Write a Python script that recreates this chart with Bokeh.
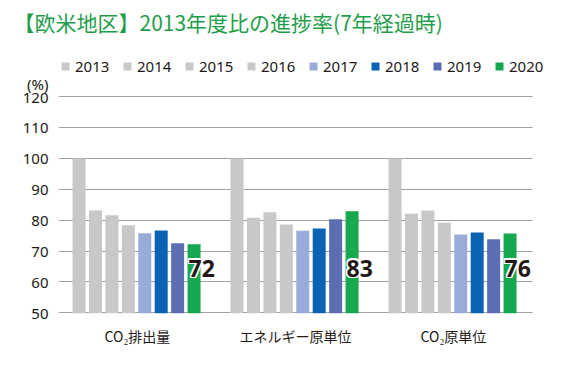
from bokeh.plotting import figure
from bokeh.models import (ColumnDataSource, Range1d, Legend, LegendItem,
                          FixedTicker, BoxAnnotation)
from bokeh.transform import dodge
from bokeh.core.properties import value
from bokeh.embed import file_html
from bokeh.resources import INLINE

title_text = "【欧米地区】2013年度比の進捗率(7年経過時)"
categories = ["CO₂排出量", "エネルギー原単位", "CO₂原単位"]
years = ["2013", "2014", "2015", "2016", "2017", "2018", "2019", "2020"]
v2013 = [100.0, 100.0, 100.0]
v2014 = [83.1, 80.8, 82.1]
v2015 = [81.6, 82.6, 83.1]
v2016 = [78.4, 78.6, 79.2]
v2017 = [75.8, 76.6, 75.4]
v2018 = [76.7, 77.3, 76.0]
v2019 = [72.5, 80.3, 73.8]
v2020 = [72.2, 82.9, 75.7]
end_labels = ["72", "83", "76"]
y_ticks = [50, 60, 70, 80, 90, 100, 110, 120]
unit_label = "(%)"
unit_pos = 124.2

series = [v2013, v2014, v2015, v2016, v2017, v2018, v2019, v2020]
colors = ["#c8c8c8", "#c8c8c8", "#c8c8c8", "#c8c8c8",
          "#99acd9", "#0b63b3", "#5b6eb3", "#16a84e"]
TEXT = "#231815"
Y0 = 49.8
n = len(categories)
x_end = n + 15 / 158

p = figure(frame_width=489, frame_height=273, x_range=Range1d(0, x_end),
           y_range=Range1d(Y0, 138.15), output_backend="svg",
           toolbar_location=None, min_border_left=58, min_border_right=0,
           min_border_top=40, min_border_bottom=40)
p.outline_line_color = None
p.background_fill_color = "white"

p.title.text = title_text
p.title.text_font = "Noto Sans CJK JP"
p.title.text_font_size = "21px"
p.title.text_font_style = "normal"
p.title.text_color = "#1e9e4a"
p.title.align = "left"
p.title.offset = -45
p.title.standoff = 8

centers = [i + 0.5 for i in range(n)]
data = {"xc": centers}
for yr, vals in zip(years, series):
    data["y" + yr] = vals
data["lab"] = end_labels
data["ly"] = [64.5] * n
src = ColumnDataSource(data)

slot = 0.104
first = -0.370
bw = 0.0823
items = []
for i, (yr, col) in enumerate(zip(years, colors)):
    r = p.vbar(x=dodge("xc", first + i * slot), top="y" + yr,
               bottom=Y0, width=bw, source=src, fill_color=col, line_color=None)
    items.append(LegendItem(label=yr, renderers=[r]))

lab_x = dodge("xc", first + 7 * slot - bw / 2 + 0.006)
for dx, dy in [(-1.5, 0), (1.5, 0), (0, -1.5), (0, 1.5), (-1.2, -1.2), (1.2, 1.2), (-1.2, 1.2), (1.2, -1.2)]:
    p.text(x=lab_x, y="ly", text="lab", source=src, x_offset=dx, y_offset=dy,
           text_color="white", text_font=value("Noto Sans"), text_font_style="bold",
           text_font_size="23px", text_align="left", text_baseline="middle")
p.text(x=lab_x, y="ly", text="lab", source=src, text_color=TEXT,
       text_font=value("Noto Sans"), text_font_style="bold",
       text_font_size="23px", text_align="left", text_baseline="middle")

p.yaxis.ticker = FixedTicker(ticks=y_ticks + [unit_pos])
p.yaxis.major_label_overrides = {unit_pos: unit_label}
p.yaxis.axis_line_color = None
p.yaxis.major_tick_line_color = None
p.yaxis.minor_tick_line_color = None
p.yaxis.major_tick_out = 0
p.yaxis.major_label_standoff = 10
p.yaxis.major_label_text_font = "Noto Sans"
p.yaxis.major_label_text_font_size = "15px"
p.yaxis.major_label_text_color = TEXT

p.xaxis.ticker = FixedTicker(ticks=centers)
p.xaxis.major_label_overrides = {c: name for c, name in zip(centers, categories)}
p.xaxis.axis_line_color = None
p.xaxis.major_tick_line_color = None
p.xaxis.minor_tick_line_color = None
p.xaxis.major_tick_out = 0
p.xaxis.major_label_standoff = 12
p.xaxis.major_label_text_font = "Noto Sans CJK JP"
p.xaxis.major_label_text_font_size = "14px"
p.xaxis.major_label_text_color = TEXT

p.xgrid.grid_line_color = None
p.ygrid.ticker = FixedTicker(ticks=y_ticks)
p.ygrid.grid_line_color = "#a0a0a0"
p.ygrid.grid_line_width = 1

# grid lines end at the last category; the legend runs a little further right
p.add_layout(BoxAnnotation(left=n, top=121, fill_color="white", fill_alpha=1,
                           line_color=None))

legend = Legend(items=items, orientation="horizontal", location=(2, 237),
                glyph_width=10, glyph_height=10, label_standoff=5,
                label_width=37, spacing=10, padding=0, margin=0,
                label_height=16, border_line_color=None, background_fill_alpha=0,
                label_text_font="Noto Sans", label_text_font_size="15px",
                label_text_color=TEXT)
p.add_layout(legend, "center")

open("out.html", "w").write(file_html(p, INLINE))
